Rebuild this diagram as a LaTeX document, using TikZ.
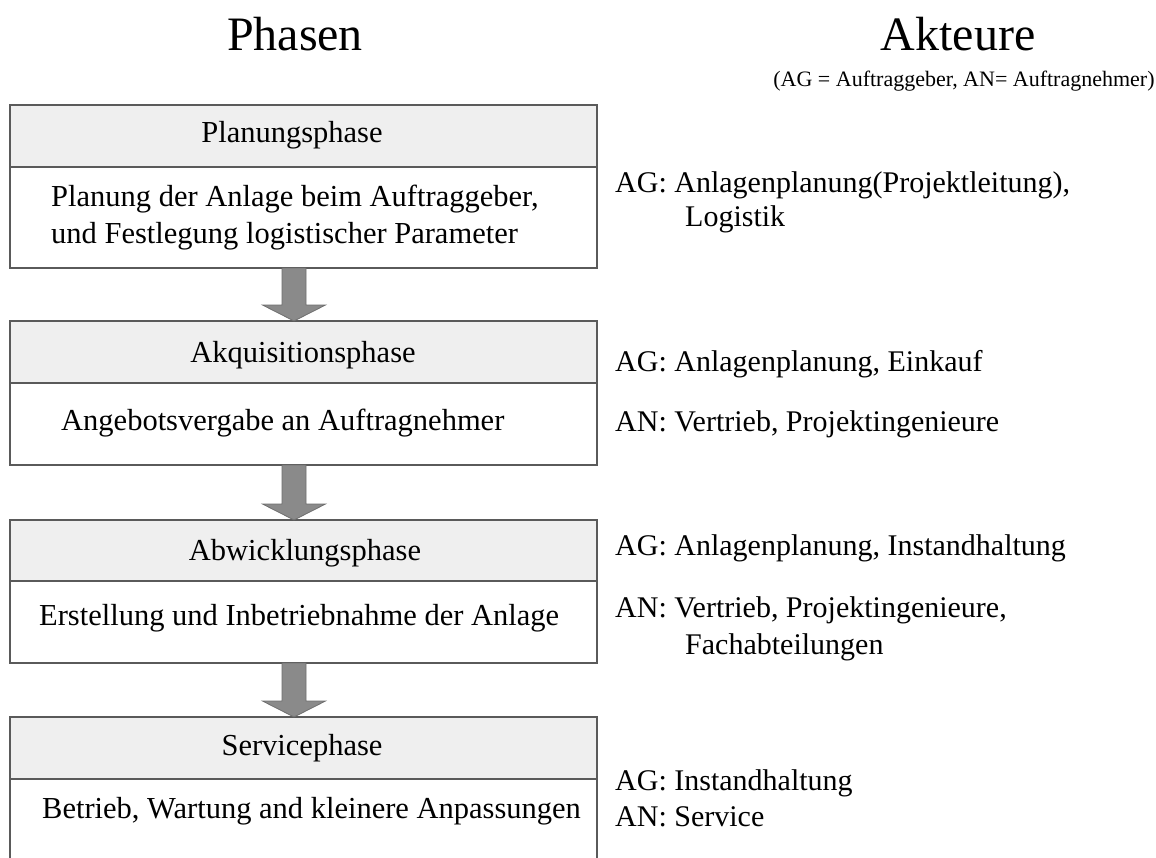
\documentclass[tikz,border=0pt]{standalone}
\usepackage{fontspec}
\setmainfont{Liberation Serif}
\usetikzlibrary{calc}

\definecolor{boxline}{HTML}{5A5A5A}
\definecolor{headfill}{HTML}{EFEFEF}
\definecolor{arrowfill}{HTML}{8A8A8A}
\definecolor{arrowline}{HTML}{6E6E6E}

\newcommand\fTitle{\fontsize{48}{56}\selectfont}
\newcommand\fSub{\fontsize{22}{26}\selectfont}
\newcommand\fHead{\fontsize{30.5}{36}\selectfont}
\newcommand\fBody{\fontsize{30.5}{36}\selectfont}
\newcommand\fActor{\fontsize{30}{36}\selectfont}

\begin{document}
\begin{tikzpicture}[x=1pt,y=-1pt,
  frame/.style={draw=boxline, line width=1.3pt, minimum width=587pt,
                inner sep=0pt, outer sep=0pt, anchor=north west},
  headbox/.style={frame, fill=headfill},
  bodybox/.style={frame, fill=white},
  title/.style={inner sep=0pt, anchor=base, font=\fTitle},
  headtxt/.style={inner sep=0pt, anchor=base, font=\fHead},
  bodytxt/.style={inner sep=0pt, anchor=base west, font=\fBody},
  actor/.style={inner sep=0pt, anchor=base west, font=\fActor},
  blockarrow/.style={fill=arrowfill, draw=arrowline, line width=0.8pt, line join=miter}
]
\clip (0,0) rectangle (1156,857);
\fill[white] (0,0) rectangle (1156,857);

% column titles
\node[title] (tphase) at (295,50) {Phasen};
\node[title] (tactor) at (958,50) {Akteure};
\node[inner sep=0pt, anchor=base, font=\fSub] (tlegend) at (964,86)
  {(AG = Auftraggeber, AN= Auftragnehmer)};

% phase boxes: header strip + description area
\node[headbox, minimum height=62pt] (h1) at (10,105) {};
\node[bodybox, minimum height=101pt] (b1) at (10,167) {};
\node[headbox, minimum height=62pt] (h2) at (10,321) {};
\node[bodybox, minimum height=82pt] (b2) at (10,383) {};
\node[headbox, minimum height=61pt] (h3) at (10,520) {};
\node[bodybox, minimum height=82pt] (b3) at (10,581) {};
\node[headbox, minimum height=62pt] (h4) at (10,717) {};
\node[bodybox, minimum height=110pt] (b4) at (10,779) {};

% phase names
\node[headtxt] (n1) at (292,142) {Planungsphase};
\node[headtxt] (n2) at (303,362) {Akquisitionsphase};
\node[headtxt] (n3) at (305,560) {Abwicklungsphase};
\node[headtxt] (n4) at (302,755) {Servicephase};

% phase descriptions
\node[bodytxt] (d1a) at (51,206) {Planung der Anlage beim Auftraggeber,};
\node[bodytxt] (d1b) at (51,243) {und Festlegung logistischer Parameter};
\node[bodytxt] (d2) at (61,430) {Angebotsvergabe an Auftragnehmer};
\node[bodytxt] (d3) at (39,625) {Erstellung und Inbetriebnahme der Anlage};
\node[bodytxt] (d4) at (42,818) {Betrieb, Wartung and kleinere Anpassungen};

% actors
\node[actor] (a1a) at (615,192) {AG: Anlagenplanung(Projektleitung),};
\node[actor] (a1b) at (685,226) {Logistik};
\node[actor] (a2a) at (615,371) {AG: Anlagenplanung, Einkauf};
\node[actor] (a2b) at (615,431) {AN: Vertrieb, Projektingenieure};
\node[actor] (a3a) at (615,555) {AG: Anlagenplanung, Instandhaltung};
\node[actor] (a3b) at (615,617) {AN: Vertrieb, Projektingenieure,};
\node[actor] (a3c) at (685,654) {Fachabteilungen};
\node[actor] (a4a) at (615,790) {AG: Instandhaltung};
\node[actor] (a4b) at (615,826) {AN: Service};

% block arrows between consecutive phases
\foreach \src/\dst in {b1/h2, b2/h3, b3/h4}{
  \path[blockarrow]
    ($(\src.south)+(-21.5,0)$) -- ($(\dst.north)+(-21.5,-16)$)
    -- ($(\dst.north)+(-41,-16)$) -- ($(\dst.north)+(-9.5,0)$)
    -- ($(\dst.north)+(22,-16)$) -- ($(\dst.north)+(2.5,-16)$)
    -- ($(\src.south)+(2.5,0)$) -- cycle;
}
\end{tikzpicture}
\end{document}
